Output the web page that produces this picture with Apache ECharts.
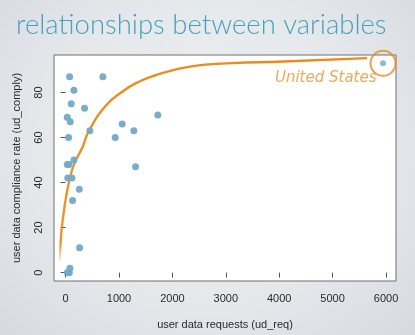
<!DOCTYPE html>
<html>
<head>
<meta charset="utf-8">
<script src="https://cdn.jsdelivr.net/npm/echarts@6/dist/echarts.min.js"></script>
<style>
  html, body { margin: 0; padding: 0; }
  body {
    width: 415px; height: 335px; overflow: hidden;
    background: radial-gradient(ellipse at 50% 45%, #eef0f2 0%, #e6e9ec 55%, #d6dadf 100%);
  }
  #chart { width: 415px; height: 335px; }
</style>
</head>
<body>
<div id="chart"></div>
<script>
// user data requests vs. compliance rate, one point per country
const udReq = [75, 698, 156, 106, 355, 31, 87, 1727, 455, 1060, 1278, 56, 929, 156,
               31, 62, 1310, 40, 120, 256, 131, 262, 81, 31, 69];
const udComply = [87, 87, 81, 75, 73, 69, 67, 70, 63, 66, 63, 60, 60, 50,
                  48, 48, 47, 42, 42, 37, 32, 11, 2, 0, 0];

// highlighted country
const usReq = 5944;
const usComply = 93;
const usName = 'United States';

// hand-drawn trend curve (x, y)
const trendX = [-110, -100, -75, -19, 62, 156, 312, 437, 748, 1060, 1372, 1684, 1996, 2307, 2619, 3118, 4085, 5645];
const trendY = [5, 10, 19, 29.5, 40, 48, 55.5, 63, 74, 80.4, 84.8, 87.7, 89.9, 91.4, 92.4, 93.1, 93.8, 95.3];

const xTicks = [0, 1000, 2000, 3000, 4000, 5000, 6000];
const yTicks = [0, 20, 40, 60, 80];

const title = 'relationships between variables';
const xName = 'user data requests (ud_req)';
const yName = 'user data compliance rate (ud_comply)';

const orange = '#e98b1c';
const dotColor = '#72a9c7';
const axisFont = { fontFamily: 'Liberation Sans', fontSize: 11, color: '#2a2a2a' };
const plain = v => String(v);

const chart = echarts.init(document.getElementById('chart'), null, { renderer: 'canvas' });

chart.setOption({
  backgroundColor: 'transparent',
  animation: false,
  title: {
    text: title,
    left: 11, top: 6,
    textStyle: { fontFamily: 'Lato', fontWeight: 300, fontSize: 27.5, color: '#46a2bb' }
  },
  grid: {
    left: 54, right: 19, top: 55, bottom: 49,
    show: true, backgroundColor: '#ffffff', borderColor: '#6f6f6f', borderWidth: 1
  },
  xAxis: {
    type: 'value', min: -217, max: 6187,
    splitLine: { show: false },
    axisLine: { show: false },
    axisTick: { show: true, inside: false, length: 5, lineStyle: { color: '#555' }, customValues: xTicks },
    axisLabel: Object.assign({ margin: 12, customValues: xTicks, formatter: plain }, axisFont),
    name: xName, nameLocation: 'middle', nameGap: 38,
    nameTextStyle: axisFont
  },
  yAxis: {
    type: 'value', min: -3.72, max: 96.7,
    splitLine: { show: false },
    axisLine: { show: false },
    axisTick: { show: true, inside: false, length: 5, lineStyle: { color: '#555' }, customValues: yTicks },
    axisLabel: Object.assign({ margin: 10, rotate: 90, customValues: yTicks, formatter: plain }, axisFont),
    name: yName, nameLocation: 'middle', nameGap: 32, nameRotate: 90,
    nameTextStyle: axisFont
  },
  series: [
    {
      type: 'line',
      data: trendX.map((x, i) => [x, trendY[i]]),
      smooth: 0.5,
      showSymbol: false,
      symbol: 'none',
      lineStyle: {
        width: 2.4,
        color: new echarts.graphic.LinearGradient(0, 1, 0, 0, [
          { offset: 0, color: 'rgba(233,139,28,0)' },
          { offset: 0.1, color: 'rgba(233,139,28,0.9)' },
          { offset: 1, color: orange }
        ])
      },
      z: 2
    },
    {
      type: 'scatter',
      data: udReq.map((x, i) => [x, udComply[i]]),
      symbolSize: 7,
      itemStyle: { color: dotColor, opacity: 0.95 },
      z: 3
    },
    {
      type: 'scatter',
      data: [[usReq, usComply]],
      symbolSize: 6,
      itemStyle: { color: dotColor },
      z: 3
    },
    {
      type: 'scatter',
      data: [{ value: [usReq, usComply], name: usName }],
      symbolSize: 25,
      itemStyle: { color: 'rgba(0,0,0,0)', borderColor: orange, borderWidth: 2 },
      label: {
        show: true, formatter: '{b}', position: 'left', distance: 0, offset: [7, 15],
        fontFamily: 'DejaVu Sans', fontStyle: 'italic', fontWeight: 200, fontSize: 15,
        color: '#e8952f'
      },
      z: 4
    }
  ]
});
</script>
</body>
</html>
